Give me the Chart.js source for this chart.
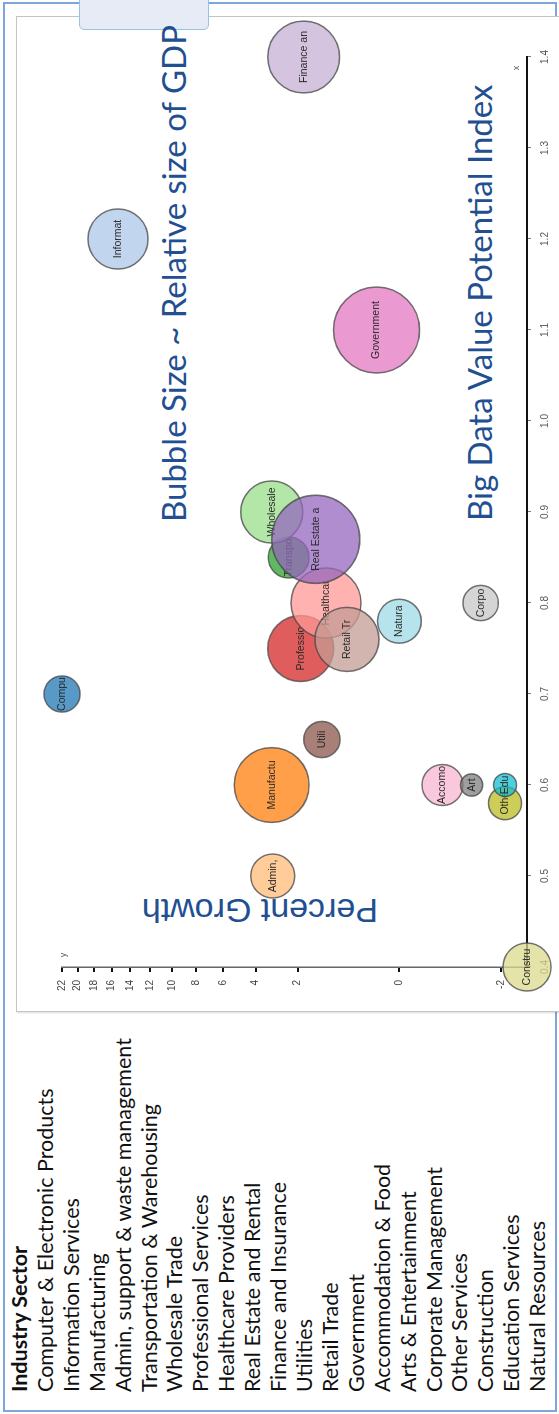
<!DOCTYPE html>
<html>
<head>
<meta charset="utf-8">
<title>Big Data Value Potential by Industry Sector</title>
<script src="https://cdn.jsdelivr.net/npm/chart.js@4.4.1/dist/chart.umd.min.js"></script>
<style>
  html, body { margin: 0; padding: 0; background: #fff; }
  body { width: 559px; height: 1414px; overflow: hidden; position: relative; }
  /* the sheet is laid out in landscape and turned a quarter turn */
  #sheet {
    position: absolute; left: 0; top: 0;
    width: 1414px; height: 559px;
    transform-origin: 0 0;
    transform: rotate(-90deg) translate(-1414px, 0);
    background: #fff; overflow: hidden;
  }
  .frame {
    position: absolute; left: 2px; top: 3px; width: 1406px; height: 550px;
    border: 2px solid #7ea6d8;
  }
  .panel {
    position: absolute; left: 402px; top: 16px; width: 994px; height: 560px;
    border: 1px solid #c4c4c4; box-shadow: -1px 1px 2px rgba(0,0,0,0.15);
    background: #fff;
  }
  .tab {
    position: absolute; left: 1384px; top: 79px; width: 40px; height: 128px;
    background: #e7ebf6; border: 1.5px solid #93c3ea; border-radius: 5px;
  }
  #legend {
    position: absolute; left: 22px; top: 7px;
    font-family: Lato, "Open Sans", sans-serif; font-size: 21.5px;
    line-height: 25.9px; color: #111; white-space: nowrap;
  }
  #legend .head { font-weight: bold; }
  .note {
    position: absolute; white-space: nowrap; color: #224f91;
    font-family: Lato, "Open Sans", sans-serif; font-size: 33px; line-height: 1;
  }
  .ytitle {
    position: absolute; white-space: nowrap; color: #224f91;
    font-family: "Liberation Sans", Arial, sans-serif; font-size: 34px; line-height: 1;
    transform-origin: 0 0; transform: rotate(-90deg);
  }
  #plot { position: absolute; left: 0; top: 0; }
</style>
</head>
<body>
<div id="sheet">
  <div class="frame"></div>
  <div class="panel"></div>
  <div class="tab"></div>
  <div id="legend"></div>
  <div class="note" id="sizeNote" style="left:892px; top:157px;">Bubble Size ~ Relative size of GDP</div>
  <div class="note" id="xNote" style="left:893px; top:463px;">Big Data Value Potential Index</div>
  <div class="ytitle" style="left:486px; top:378px;">Percent Growth</div>
  <canvas id="plot" width="1414" height="559"></canvas>
</div>
<script>
// Industry sectors, in legend order
const sectors = [
  'Computer & Electronic Products', 'Information Services', 'Manufacturing',
  'Admin, support & waste management', 'Transportation & Warehousing', 'Wholesale Trade',
  'Professional Services', 'Healthcare Providers', 'Real Estate and Rental',
  'Finance and Insurance', 'Utilities', 'Retail Trade', 'Government',
  'Accommodation & Food', 'Arts & Entertainment', 'Corporate Management',
  'Other Services', 'Construction', 'Education Services', 'Natural Resources'
];

// Short names printed inside the bubbles
const bubbleNames = [
  'Compu', 'Informat', 'Manufactu', 'Admin,', 'Transpo', 'Wholesale',
  'Professio', 'Healthcar', 'Real Estate a', 'Finance an', 'Utili', 'Retail Tr',
  'Government', 'Accomo', 'Art', 'Corpo', 'Othe', 'Constru', 'Edu', 'Natura'
];

// x: Big Data Value Potential Index
const bigDataIndex = [
  0.70, 1.20, 0.60, 0.50, 0.85, 0.90, 0.75, 0.80, 0.87, 1.40,
  0.65, 0.76, 1.10, 0.60, 0.60, 0.80, 0.58, 0.40, 0.60, 0.78
];

// y: Percent Growth
const percentGrowth = [
  22.0, 15.3, 3.15, 3.1, 2.37, 3.15, 1.88, 1.04, 1.35, 1.77,
  1.16, 0.53, 0.10, -0.36, -1.01, -1.28, -2.16, -3.15, -2.16, 0.0
];

// bubble size: share of GDP (%)
const gdpShare = [
  2.1, 5.8, 9.0, 3.1, 2.7, 6.2, 7.0, 7.9, 12.5, 8.3,
  2.1, 6.6, 11.9, 2.7, 0.8, 2.0, 1.75, 3.7, 0.85, 3.1
];

// axis ticks
const xTickValues = [0.4, 0.5, 0.6, 0.7, 0.8, 0.9, 1.0, 1.1, 1.2, 1.3, 1.4];
const yTickValues = [-2, 0, 2, 4, 6, 8, 10, 12, 14, 16, 18, 20, 22];

// category20 palette
const palette = [
  '#1f77b4', '#aec7e8', '#ff7f0e', '#ffbb78', '#2ca02c', '#98df8a', '#d62728', '#ff9896',
  '#9467bd', '#c5b0d5', '#8c564b', '#c49c94', '#e377c2', '#f7b6d2', '#7f7f7f', '#c7c7c7',
  '#bcbd22', '#dbdb8d', '#17becf', '#9edae5'
];

const PX_PER_SQRT_SHARE = 12.47;   // bubble area grows with GDP share

// legend list
const legendEl = document.getElementById('legend');
legendEl.innerHTML = '<div class="head">Industry Sector</div>' +
  sectors.map(s => '<div>' + s.replace(/&/g, '&amp;') + '</div>').join('');

// signed square-root scale for the growth axis
const sgnSqrt = v => Math.sign(v) * Math.sqrt(Math.abs(v));
const sgnSq = t => Math.sign(t) * t * t;

class SignedSqrtScale extends Chart.LinearScale {
  configure() {
    super.configure();
    this._tStart = sgnSqrt(this.min);
    this._tRange = sgnSqrt(this.max) - this._tStart;
  }
  getPixelForValue(value) {
    return this.getPixelForDecimal((sgnSqrt(value) - this._tStart) / this._tRange);
  }
  getValueForPixel(pixel) {
    return sgnSq(this._tStart + this.getDecimalForPixel(pixel) * this._tRange);
  }
}
SignedSqrtScale.id = 'signedSqrt';
SignedSqrtScale.defaults = Chart.LinearScale.defaults;
Chart.register(SignedSqrtScale);

function withAlpha(hex, a) {
  const n = parseInt(hex.slice(1), 16);
  return 'rgba(' + (n >> 16) + ',' + ((n >> 8) & 255) + ',' + (n & 255) + ',' + a + ')';
}

const datasets = sectors.map((name, i) => ({
  label: name,
  data: [{ x: bigDataIndex[i], y: percentGrowth[i], r: PX_PER_SQRT_SHARE * Math.sqrt(gdpShare[i]) }],
  backgroundColor: withAlpha(palette[i], 0.75),
  borderColor: 'rgba(70,70,70,0.75)',
  borderWidth: 1.5,
  clip: false,
  order: sectors.length - i
}));

// names inside bubbles, drawn right after each bubble so later bubbles cover them
const bubbleNamePlugin = {
  id: 'bubbleNames',
  afterDatasetDraw(chart, args) {
    const el = args.meta.data[0];
    if (!el) return;
    const ctx = chart.ctx;
    ctx.save();
    ctx.font = '10.5px "Liberation Sans", Arial, sans-serif';
    ctx.fillStyle = '#2a2a2a';
    ctx.textAlign = 'center';
    ctx.textBaseline = 'middle';
    ctx.fillText(bubbleNames[args.index], el.x, el.y);
    ctx.restore();
  }
};

// small axis letters at the axis ends
const axisLetterPlugin = {
  id: 'axisLetters',
  afterDraw(chart) {
    const ctx = chart.ctx;
    const xs = chart.scales.x, ys = chart.scales.y;
    ctx.save();
    ctx.font = '9px "Liberation Sans", Arial, sans-serif';
    ctx.fillStyle = '#555';
    ctx.textAlign = 'center';
    ctx.textBaseline = 'middle';
    ctx.fillText('x', xs.right - 11, xs.top - 10);
    ctx.fillText('y', ys.right + 12, ys.top + 2);
    ctx.restore();
  }
};

new Chart(document.getElementById('plot'), {
  type: 'bubble',
  data: { datasets },
  plugins: [bubbleNamePlugin, axisLetterPlugin],
  options: {
    responsive: false,
    animation: false,
    devicePixelRatio: 1,
    layout: { autoPadding: false, padding: { left: 407, right: 57, top: 62, bottom: 7 } },
    plugins: { legend: { display: false }, tooltip: { enabled: false } },
    scales: {
      x: {
        type: 'linear',
        position: 'bottom',
        min: Math.min(...bigDataIndex),
        max: Math.max(...bigDataIndex),
        bounds: 'data',
        afterBuildTicks: s => { s.ticks = xTickValues.map(v => ({ value: v })); },
        afterFit: s => { s.height = 25; },
        grid: { drawOnChartArea: false, drawTicks: true, tickLength: 4, color: '#777', lineWidth: 1 },
        border: { display: true, color: '#111', width: 2 },
        ticks: {
          padding: 8, color: '#555',
          font: { family: '"Liberation Sans", Arial, sans-serif', size: 10 },
          callback: v => Number(v).toFixed(1), maxRotation: 0, autoSkip: false
        }
      },
      y: {
        type: 'signedSqrt',
        position: 'left',
        min: Math.min(...percentGrowth),
        max: Math.max(...percentGrowth),
        bounds: 'data',
        afterBuildTicks: s => { s.ticks = yTickValues.map(v => ({ value: v })); },
        afterFit: s => { s.width = 40; },
        grid: { drawOnChartArea: false, drawTicks: true, tickLength: 5, color: '#111', lineWidth: 2 },
        border: { display: true, color: '#666', width: 1.5 },
        ticks: {
          padding: 8, color: '#444',
          font: { family: '"Liberation Sans", Arial, sans-serif', size: 10 },
          callback: v => String(v), autoSkip: false
        }
      }
    }
  }
});
</script>
</body>
</html>
